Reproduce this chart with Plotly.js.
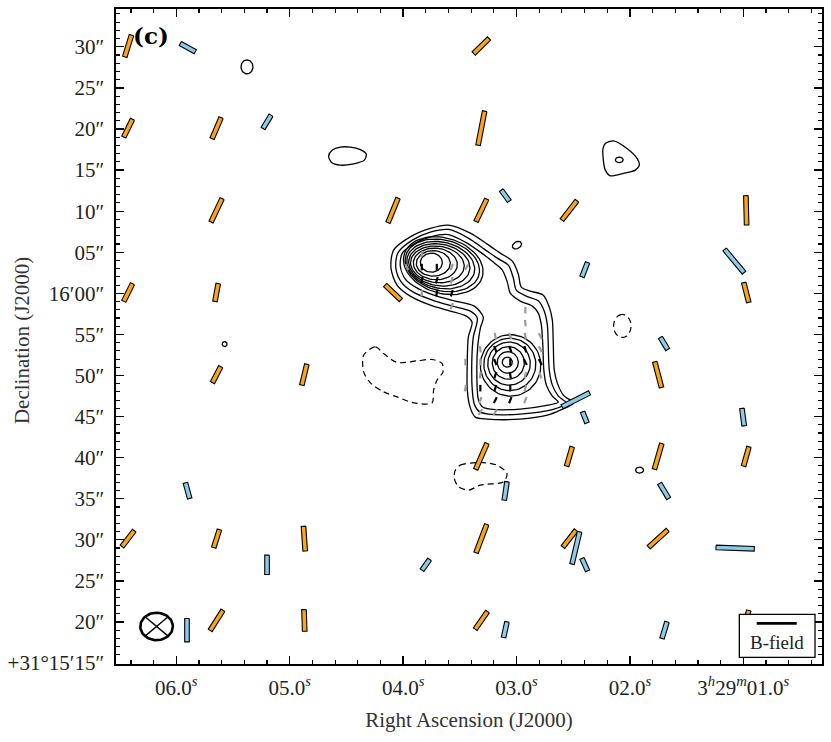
<!DOCTYPE html>
<html>
<head>
<meta charset="utf-8">
<script src="https://cdn.plot.ly/plotly-3.0.1.min.js"></script>
<style>
  body { margin: 0; background: #fff; }
  #plot { width: 831px; height: 742px; }
</style>
</head>
<body>
<div id="plot"></div>
<script>
// x = RA seconds after 3h29m, y = Dec arcsec above +31d15m00s
var ARCSEC_PER_SEC = 15 * Math.cos((31 + 16 / 60) * Math.PI / 180)

var X_RANGE = [6.532, 0.306]
var Y_RANGE = [14.89, 94.60]

var raTicks = [6, 5, 4, 3, 2, 1]
var raTickText = ['06.0<sup><i>s</i></sup>', '05.0<sup><i>s</i></sup>', '04.0<sup><i>s</i></sup>',
  '03.0<sup><i>s</i></sup>', '02.0<sup><i>s</i></sup>', '3<sup><i>h</i></sup>29<sup><i>m</i></sup>01.0<sup><i>s</i></sup>']
var decTicks = [15, 20, 25, 30, 35, 40, 45, 50, 55, 60, 65, 70, 75, 80, 85, 90]
var decTickText = ['+31°15′15″', '20″', '25″', '30″', '35″', '40″', '45″', '50″', '55″',
  '16′00″', '05″', '10″', '15″', '20″', '25″', '30″']

// orange B-field segments (position angle E of N, length in arcsec)
var orRa  = [6.425, 6.425, 5.645, 3.310, 3.310, 5.645, 4.089, 3.310, 2.533, 0.974,
             6.425, 5.645, 4.089, 0.974, 5.645, 4.871, 1.751, 3.310, 2.533, 1.751,
             0.974, 6.425, 5.645, 4.871, 3.310, 2.533, 1.751, 5.645, 4.871, 3.310, 0.974]
var orDec = [90.1, 80.1, 80.1, 90.1, 80.1, 70.1, 70.1, 70.1, 70.1, 70.1,
             60.1, 60.1, 60.1, 60.1, 50.1, 50.1, 50.1, 40.15, 40.15, 40.15,
             40.15, 30.15, 30.15, 30.15, 30.15, 30.15, 30.15, 20.2, 20.2, 20.2, 20.2]
var orPa  = [-16.0, -24.5, -21.7, -43.6, -10.2, -23.6, -20.8, -23.9, -35.8, 1.3,
             -24.5, -9.8, 44.2, 13.3, -25.7, -12.5, 13.7, -22.0, -15.1, -15.0,
             -14.6, -35.5, -16.4, 3.7, -19.3, -35.9, -45.6, -30.5, 1.7, -33.0, -13.1]
var orLen = [2.75, 2.37, 2.75, 2.52, 4.20, 3.11, 3.18, 2.98, 2.90, 3.57,
             2.37, 2.19, 2.55, 2.45, 2.16, 2.62, 3.21, 3.41, 2.43, 3.24,
             2.43, 2.39, 2.28, 3.01, 3.66, 2.51, 3.01, 2.83, 2.64, 2.55, 2.50]

// light blue B-field segments
var blRa  = [5.899, 5.200, 3.099, 2.398, 1.079, 1.699, 2.477, 2.398, 1.002, 5.901,
             3.096, 1.698, 2.477, 2.398, 3.800, 5.200, 1.072, 5.906, 3.099, 1.695]
var blDec = [89.90, 80.87, 71.89, 62.88, 63.92, 53.90, 47.04, 44.91, 44.93, 35.99,
             35.95, 35.95, 29.01, 26.98, 26.96, 26.96, 28.99, 19.01, 19.07, 19.01]
var blPa  = [59.2, -29.2, 34.0, -19.9, 37.7, 29.5, -61.4, 20.4, 7.0, 14.4,
             -7.8, 29.1, -12.3, 22.8, -33.4, 0, 87.8, 0, -11.4, -15.6]
var blLen = [1.97, 1.85, 1.62, 1.86, 3.58, 1.68, 3.55, 1.43, 2.13, 1.96,
             2.25, 2.09, 4.02, 1.64, 1.56, 2.35, 4.33, 2.85, 1.94, 2.10]

// small vectors on the two cores (k = black, g = grey)
var smRa  = [3.967, 3.835, 3.835, 3.835, 3.835, 3.703, 3.703, 3.703, 3.571, 3.571, 3.571, 3.571, 3.438,
             2.922, 2.922, 3.187, 3.055, 2.922, 2.790, 3.319, 3.187, 3.055, 2.922, 3.319, 3.187, 3.055,
             2.922, 2.790, 3.319, 3.187, 3.055, 2.922, 3.319, 3.187, 3.055, 3.319, 3.187, 3.055, 3.319, 3.187,
             2.922, 2.790, 3.451, 3.451, 2.790, 2.922]
var smDec = [63.19, 64.77, 63.19, 61.60, 60.02, 63.19, 61.60, 60.02, 63.19, 61.60, 60.02, 58.44, 63.19,
             57.95, 56.37, 54.79, 54.79, 54.79, 54.79, 53.21, 53.21, 53.21, 53.21, 51.63, 51.63, 51.63,
             51.63, 51.63, 50.04, 50.04, 50.04, 50.04, 48.46, 48.46, 48.46, 47.00, 47.00, 47.00, 45.54, 45.54,
             48.46, 50.04, 51.63, 48.46, 53.21, 47.00]
var smPa  = [25, -10, 0, -15, -5, 0, -15, -10, -20, -15, -15, -20, -30,
             0, 5, 10, 15, 10, 25, 5, 20, 20, 15, 0, 20, 0,
             25, 25, -5, -15, 10, -10, 0, -15, 0, -20, -25, -20, -30, -30,
             -15, 15, 0, -10, 25, -20]
var smCol = ['g', 'g', 'k', 'k', 'g', 'k', 'k', 'k', 'g', 'g', 'k', 'g', 'g',
             'g', 'g', 'g', 'g', 'g', 'g', 'g', 'k', 'k', 'k', 'g', 'k', 'k',
             'k', 'k', 'g', 'k', 'k', 'g', 'k', 'k', 'k', 'g', 'k', 'k', 'g', 'g',
             'g', 'g', 'g', 'g', 'g', 'g']
var smLen = 0.8

var envARa  = [3.599, 3.407, 3.258, 3.143, 3.037, 2.984, 2.958, 2.878, 2.764, 2.711, 2.684, 2.676, 2.667, 2.640,
               2.587, 2.499, 2.614, 2.728, 2.967, 3.258, 3.363, 3.407, 3.434, 3.434, 3.425, 3.392, 3.443, 3.584,
               3.760, 3.937, 4.054, 4.107, 4.084, 3.937, 3.760, 3.599]
var envADec = [68.30, 67.32, 65.99, 64.89, 63.92, 62.33, 60.75, 60.27, 59.78, 58.32, 56.74, 53.94, 50.65, 49.07,
               47.61, 46.64, 45.78, 45.17, 44.69, 44.69, 44.93, 46.03, 48.22, 51.87, 54.67, 56.49, 57.22, 57.83,
               58.56, 59.66, 61.00, 63.06, 65.26, 66.87, 67.90, 68.30]
var envBRa  = [3.599, 3.425, 3.284, 3.169, 3.072, 3.028, 3.002, 2.914, 2.808, 2.755, 2.728, 2.720, 2.711, 2.684,
               2.631, 2.561, 2.684, 2.967, 3.249, 3.328, 3.372, 3.390, 3.394, 3.381, 3.346, 3.407, 3.566, 3.742,
               3.910, 4.016, 4.064, 4.047, 3.919, 3.760, 3.599]
var envBDec = [67.77, 66.72, 65.38, 64.28, 63.43, 61.85, 60.39, 59.66, 59.09, 57.83, 56.13, 53.69, 50.65, 48.83,
               47.49, 46.64, 45.84, 45.30, 45.30, 45.60, 46.51, 48.22, 51.87, 54.67, 56.98, 57.83, 58.44, 59.17,
               60.14, 61.36, 63.06, 64.89, 66.47, 67.45, 67.77]
var envCRa  = [3.601, 3.452, 3.319, 3.205, 3.125, 3.081, 3.055, 2.967, 2.861, 2.808, 2.781, 2.768, 2.759, 2.737,
               2.684, 2.631, 2.746, 2.967, 3.231, 3.302, 3.337, 3.350, 3.341, 3.319, 3.293, 3.372, 3.540, 3.716,
               3.875, 3.981, 4.025, 4.007, 3.892, 3.751, 3.601]
var envCDec = [67.14, 66.23, 65.01, 63.80, 62.82, 61.36, 60.02, 59.05, 58.44, 57.59, 56.13, 53.69, 50.65, 48.83,
               47.49, 46.76, 46.33, 45.91, 45.91, 46.21, 47.12, 50.65, 53.69, 55.76, 57.10, 58.44, 59.05, 59.72,
               60.63, 61.73, 63.31, 64.89, 66.11, 66.90, 67.14]
var cloudRa  = [4.657, 4.624, 4.554, 4.466, 4.377, 4.325, 4.342, 4.448, 4.554, 4.633, 4.657]
var cloudDec = [76.70, 77.43, 77.79, 77.79, 77.49, 76.94, 76.21, 75.72, 75.60, 75.96, 76.70]
var triRa  = [2.217, 2.144, 2.026, 1.937, 1.917, 1.952, 2.056, 2.173, 2.217, 2.237, 2.237, 2.217]
var triDec = [78.24, 78.56, 77.63, 76.42, 75.60, 74.99, 74.59, 74.30, 74.99, 76.61, 77.63, 78.24]

// closed rings: centre RA, centre Dec, N-S semi-axis, E-W semi-axis (arcsec), rotation
var ringRa  = [3.751, 3.734, 3.716, 3.698, 3.681, 3.668, 3.654, 3.646,
               3.081, 3.077, 3.072, 3.066, 3.059, 3.052,
               5.377, 5.574, 2.996, 2.094, 1.915]
var ringDec = [63.73, 63.64, 63.58, 63.52, 63.46, 63.43, 63.40, 63.37,
               51.62, 51.59, 51.53, 51.44, 51.35, 51.23,
               87.56, 53.82, 65.86, 76.24, 38.48]
var ringNS  = [1.16, 1.55, 1.92, 2.22, 2.53, 2.80, 3.07, 3.35,
               0.61, 1.31, 1.98, 2.62, 3.19, 3.74,
               0.85, 0.30, 0.40, 0.33, 0.37]
var ringEW  = [1.24, 1.92, 2.49, 3.05, 3.50, 3.90, 4.30, 4.63,
               0.57, 1.19, 1.81, 2.40, 2.94, 3.42,
               0.68, 0.28, 0.57, 0.45, 0.45]
var ringRot = [0, 0, -5, -8, -12, -15, -18, -20, 0, 0, 0, 0, 0, 0, 0, 0, 35, 0, 0]

// negative (dashed) contours
var negARa  = [4.348, 4.245, 4.172, 4.054, 3.877, 3.745, 3.657, 3.648, 3.701, 3.731, 3.745, 3.907,
               4.054, 4.172, 4.289, 4.348, 4.348]
var negADec = [52.48, 53.49, 52.68, 51.59, 51.78, 51.95, 51.47, 50.44, 49.43, 48.22, 46.67, 46.67,
               47.40, 48.01, 49.11, 50.44, 52.48]
var negBRa  = [3.540, 3.496, 3.319, 3.172, 3.084, 3.114, 3.319, 3.422, 3.511, 3.549, 3.540]
var negBDec = [38.48, 39.09, 39.42, 39.09, 38.08, 37.06, 36.66, 36.05, 36.45, 37.47, 38.48]
var negRing = [2.067, 56.03, 1.40, 0.98]

// synthesized beam
var beamRa = 6.174, beamDec = 19.46, beamNS = 1.67, beamEW = 1.84

var W = 831, H = 742
var margin = {l: 116, r: 9, t: 9, b: 78}
var pxPerSec = (W - margin.l - margin.r) / (X_RANGE[0] - X_RANGE[1])
var pxPerArc = (H - margin.t - margin.b) / (Y_RANGE[1] - Y_RANGE[0])

function ellipse(ra0, dec0, ns, ew, rot, out) {
  var r = rot * Math.PI / 180
  for (var k = 0; k <= 72; k++) {
    var t = k / 72 * 2 * Math.PI
    var n = ns * Math.cos(t) * Math.cos(r) - ew * Math.sin(t) * Math.sin(r)
    var e = ns * Math.cos(t) * Math.sin(r) + ew * Math.sin(t) * Math.cos(r)
    out.x.push(ra0 + e / ARCSEC_PER_SEC)
    out.y.push(dec0 + n)
  }
  out.x.push(null); out.y.push(null)
  return out
}

function addPath(ra, dec, out) {
  for (var k = 0; k < ra.length; k++) { out.x.push(ra[k]); out.y.push(dec[k]) }
  out.x.push(null); out.y.push(null)
  return out
}

// each segment drawn as a thin outlined box, width fixed in screen pixels
function bars(ra, dec, pa, len, width) {
  var out = {x: [], y: []}
  for (var i = 0; i < ra.length; i++) {
    var t = pa[i] * Math.PI / 180, half = len[i] / 2
    var dx = -(half * Math.sin(t) / ARCSEC_PER_SEC) * pxPerSec
    var dy = -half * Math.cos(t) * pxPerArc
    var l = Math.hypot(dx, dy)
    var qx = -dy / l * width / 2, qy = dx / l * width / 2
    var c = [[dx + qx, dy + qy], [dx - qx, dy - qy], [-dx - qx, -dy - qy], [-dx + qx, -dy + qy], [dx + qx, dy + qy]]
    for (var k = 0; k < c.length; k++) {
      out.x.push(ra[i] - c[k][0] / pxPerSec)
      out.y.push(dec[i] - c[k][1] / pxPerArc)
    }
    out.x.push(null); out.y.push(null)
  }
  return out
}

function sticks(which) {
  var out = {x: [], y: []}
  for (var i = 0; i < smRa.length; i++) {
    if (smCol[i] != which) continue
    var t = smPa[i] * Math.PI / 180
    var e = smLen / 2 * Math.sin(t) / ARCSEC_PER_SEC, n = smLen / 2 * Math.cos(t)
    out.x.push(smRa[i] + e, smRa[i] - e, null)
    out.y.push(smDec[i] + n, smDec[i] - n, null)
  }
  return out
}

var traced = {x: [], y: []}
addPath(envARa, envADec, traced)
addPath(envBRa, envBDec, traced)
addPath(envCRa, envCDec, traced)
addPath(cloudRa, cloudDec, traced)
addPath(triRa, triDec, traced)

var rings = {x: [], y: []}
for (var i = 0; i < ringRa.length; i++) ellipse(ringRa[i], ringDec[i], ringNS[i], ringEW[i], ringRot[i], rings)

var neg = {x: [], y: []}
addPath(negARa, negADec, neg)
addPath(negBRa, negBDec, neg)
ellipse(negRing[0], negRing[1], negRing[2], negRing[3], 0, neg)

var beam = ellipse(beamRa, beamDec, beamNS, beamEW, 0, {x: [], y: []})
var beamCross = {x: [], y: []}
;[45, 135].forEach(function (a) {
  var t = a * Math.PI / 180
  var e = beamEW * Math.sin(t) / ARCSEC_PER_SEC, n = beamNS * Math.cos(t)
  beamCross.x.push(beamRa + e, beamRa - e, null)
  beamCross.y.push(beamDec + n, beamDec - n, null)
})

var orange = bars(orRa, orDec, orPa, orLen, 4.6)
var blue = bars(blRa, blDec, blPa, blLen, 4.6)
var blk = sticks('k'), gry = sticks('g')

var data = [
  {type: 'scatter', mode: 'lines', x: traced.x, y: traced.y, line: {color: 'black', width: 1.3, shape: 'spline', smoothing: 0.8}},
  {type: 'scatter', mode: 'lines', x: rings.x, y: rings.y, line: {color: 'black', width: 1.3}},
  {type: 'scatter', mode: 'lines', x: neg.x, y: neg.y, line: {color: 'black', width: 1.2, dash: '6px,4px', shape: 'spline', smoothing: 0.8}},
  {type: 'scatter', mode: 'lines', x: gry.x, y: gry.y, line: {color: '#9a9a9a', width: 2.2}},
  {type: 'scatter', mode: 'lines', x: blk.x, y: blk.y, line: {color: 'black', width: 2.2}},
  {type: 'scatter', mode: 'lines', x: orange.x, y: orange.y, fill: 'toself', fillcolor: '#f9a61a', line: {color: 'black', width: 1.1}},
  {type: 'scatter', mode: 'lines', x: blue.x, y: blue.y, fill: 'toself', fillcolor: '#8ccbea', line: {color: 'black', width: 1.1}},
  {type: 'scatter', mode: 'lines', x: beam.x, y: beam.y, line: {color: 'black', width: 2.6}},
  {type: 'scatter', mode: 'lines', x: beamCross.x, y: beamCross.y, line: {color: 'black', width: 1.4}}
]

var tickFont = {family: 'Liberation Serif, serif', size: 21, color: '#222'}

var layout = {
  width: W, height: H,
  margin: margin,
  paper_bgcolor: 'white', plot_bgcolor: 'white',
  showlegend: false,
  hovermode: false,
  font: {family: 'Liberation Serif, serif', color: '#222'},
  xaxis: {
    range: X_RANGE, tickmode: 'array', tickvals: raTicks, ticktext: raTickText,
    ticks: 'inside', ticklen: 8, tickwidth: 1.3, tickcolor: 'black',
    showline: true, linecolor: 'black', linewidth: 1.6, mirror: 'allticks',
    showgrid: false, zeroline: false, tickfont: tickFont, ticklabelstandoff: 4,
    minor: {ticks: 'inside', ticklen: 4, tickwidth: 1.1, tickcolor: 'black', dtick: 0.2, tick0: 0, showgrid: false},
    title: {text: 'Right Ascension (J2000)', font: {size: 21, color: '#333'}, standoff: 13}
  },
  yaxis: {
    range: Y_RANGE, tickmode: 'array', tickvals: decTicks, ticktext: decTickText,
    ticks: 'inside', ticklen: 8, tickwidth: 1.3, tickcolor: 'black',
    showline: true, linecolor: 'black', linewidth: 1.6, mirror: 'allticks',
    showgrid: false, zeroline: false, tickfont: tickFont, ticklabelstandoff: 6,
    minor: {ticks: 'inside', ticklen: 4, tickwidth: 1.1, tickcolor: 'black', dtick: 1, tick0: 0, showgrid: false}
  },
  shapes: [
    {type: 'rect', xref: 'paper', yref: 'paper', x0: 0.8829, x1: 0.9901, y0: 0.0102, y1: 0.0759,
     fillcolor: 'white', line: {color: 'black', width: 1.3}, layer: 'above'},
    {type: 'line', xref: 'paper', yref: 'paper', x0: 0.9075, x1: 0.9642, y0: 0.0621, y1: 0.0621,
     line: {color: 'black', width: 2.8}, layer: 'above'}
  ],
  annotations: [
    {xref: 'paper', yref: 'paper', x: 0.9363, y: 0.0335, xanchor: 'center', yanchor: 'middle',
     text: 'B-field', showarrow: false, font: {family: 'Liberation Serif, serif', size: 19, color: '#222'}},
    {xref: 'paper', yref: 'paper', x: 0.0496, y: 0.960, xanchor: 'center', yanchor: 'middle',
     text: '<b>(c)</b>', showarrow: false, font: {family: 'DejaVu Serif, serif', size: 23, color: 'black'}},
    {xref: 'paper', yref: 'paper', x: -0.1331, y: 0.4931, xanchor: 'center', yanchor: 'middle',
     text: 'Declination (J2000)', textangle: -90,
     showarrow: false, font: {family: 'Liberation Serif, serif', size: 21, color: '#333'}}
  ]
}

Plotly.newPlot('plot', data, layout, {displayModeBar: false, staticPlot: true})
</script>
</body>
</html>
